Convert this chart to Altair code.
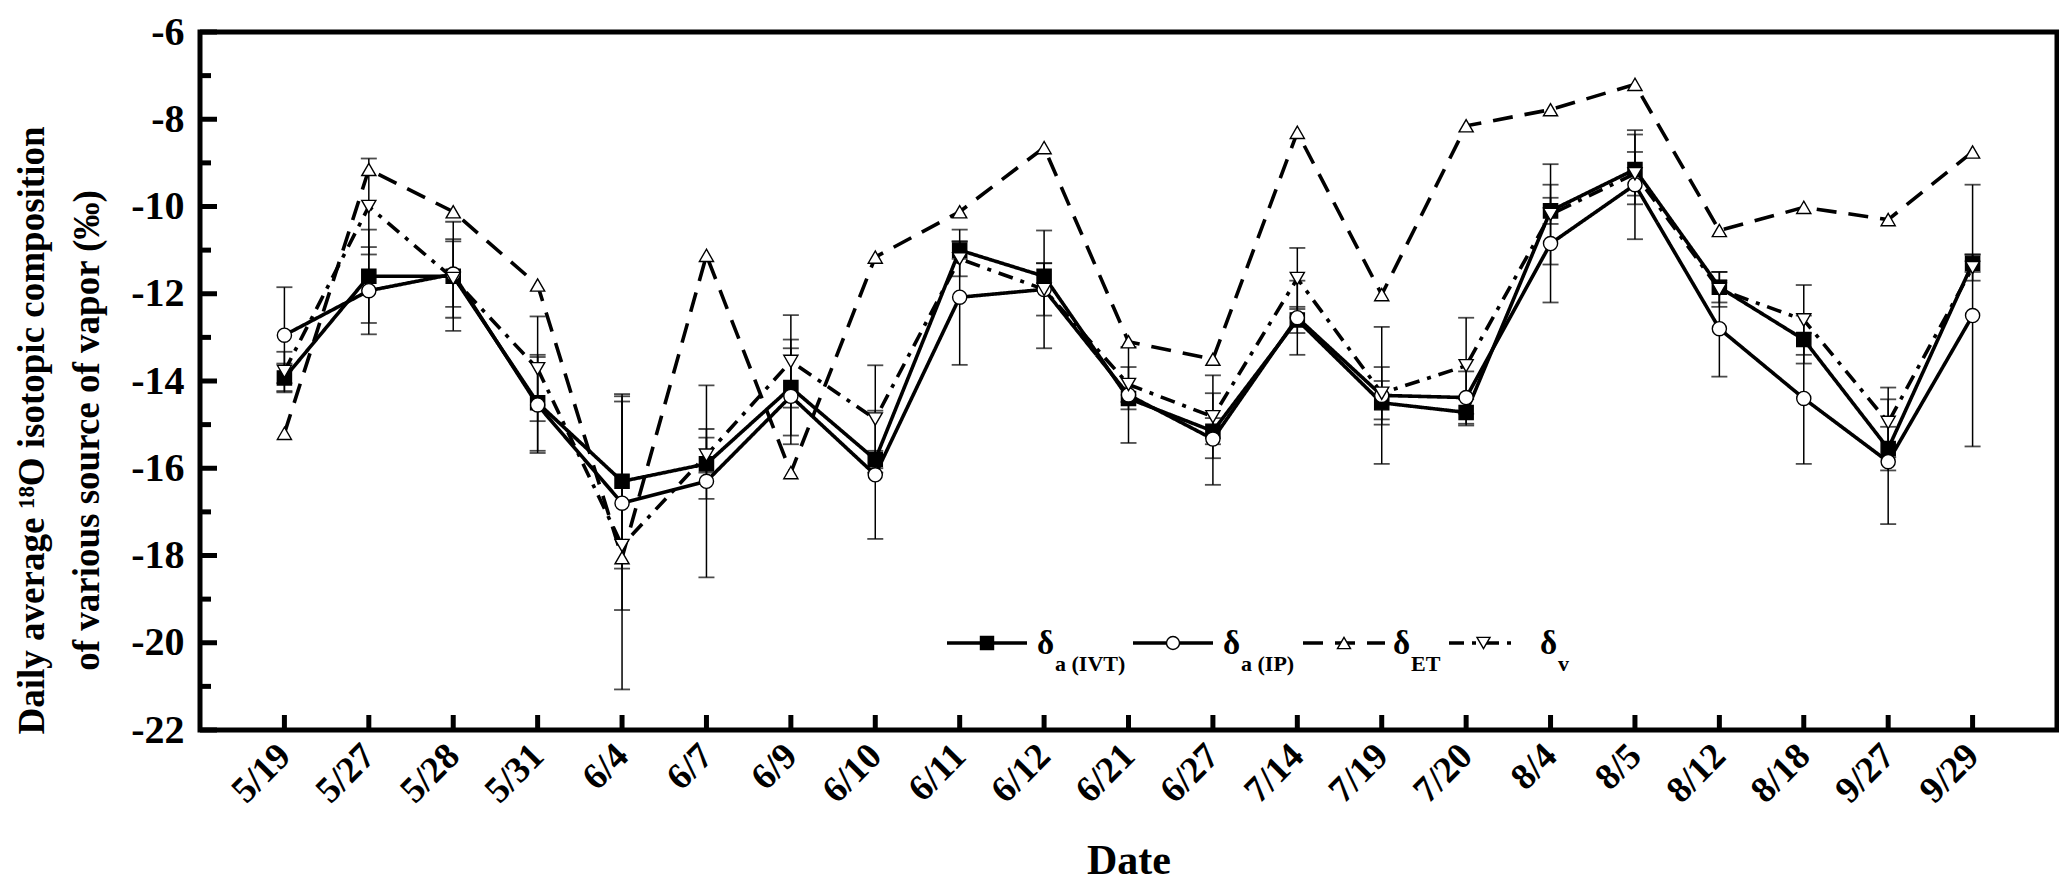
import altair as alt
import pandas as pd

# sampling dates (categories on the x axis)
dates = ["5/19", "5/27", "5/28", "5/31", "6/4", "6/7", "6/9", "6/10", "6/11", "6/12", "6/21",
         "6/27", "7/14", "7/19", "7/20", "8/4", "8/5", "8/12", "8/18", "9/27", "9/29"]

# daily average d18O (permil) of each vapour source
d_ivt = [-13.93, -11.6, -11.6, -14.5, -16.3, -15.9, -14.15, -15.8, -11.0, -11.6, -14.4,
         -15.15, -12.6, -14.5, -14.72, -10.1, -9.15, -11.85, -13.05, -15.55, -11.3]
d_ip = [-12.95, -11.93, -11.55, -14.55, -16.8, -16.3, -14.35, -16.15, -12.08, -11.9, -14.32,
        -15.33, -12.55, -14.33, -14.38, -10.85, -9.5, -12.8, -14.4, -15.85, -12.5]
d_et = [-15.2, -9.15, -10.12, -11.8, -18.05, -11.12, -16.1, -11.16, -10.12, -8.65, -13.1,
        -13.5, -8.3, -12.02, -8.15, -7.78, -7.2, -10.55, -10.02, -10.3, -8.75]
d_v = [-13.78, -10.0, -11.65, -13.72, -17.77, -15.7, -13.55, -14.87, -11.2, -11.9, -14.08,
       -14.82, -11.65, -14.28, -13.65, -10.18, -9.25, -11.9, -12.6, -14.95, -11.4]

# error half-widths (permil)
e_ivt = [0.33, 1.07, 1.25, 1.1, 2.0, 0.8, 1.1, 0.2, 0.2, 0.3, 0.25,
         0.3, 0.3, 0.5, 0.3, 0.3, 0.8, 0.35, 0.55, 0.5, 0.2]
e_ip = [1.1, 1.0, 0.75, 1.1, 2.45, 2.2, 1.1, 1.47, 1.55, 1.35, 1.1,
        1.05, 0.85, 1.57, 0.6, 1.35, 1.25, 1.1, 1.5, 1.43, 3.0]
e_v = [0.45, 1.1, 0.9, 1.2, 3.3, 0.4, 1.06, 1.23, 0.4, 0.6, 0.4,
       0.95, 0.7, 0.6, 1.1, 1.15, 0.5, 0.4, 0.8, 0.8, 0.3]

series = ["IVT", "IP", "ET", "v"]
subs = ["a (IVT)", "a (IP)", "ET", "v"]
shapes = ["square", "circle", "triangle-up", "triangle-down"]
fills = ["black", "white", "white", "white"]
dashes = [[1, 0], [1, 0], [20, 12], [15, 8, 4, 8]]

W = 1857
H = 698
FONT = "Liberation Serif"

rows = []
for key, vals, errs in [("IVT", d_ivt, e_ivt), ("IP", d_ip, e_ip), ("ET", d_et, None), ("v", d_v, e_v)]:
    for i, d in enumerate(dates):
        r = {"date": d, "series": key, "value": vals[i]}
        if errs is not None:
            r["lo"] = vals[i] - errs[i]
            r["hi"] = vals[i] + errs[i]
        rows.append(r)
df = pd.DataFrame(rows)
df_err = df.dropna(subset=["lo"])

x_enc = alt.X("date:N", sort=dates, scale=alt.Scale(type="point", padding=1),
              axis=alt.Axis(title="Date", labelAngle=-45, labelAlign="right", labelBaseline="middle",
                            labelPadding=20, labelFontSize=37, ticks=False, domain=False,
                            titleFontSize=42, titleY=143, titleBaseline="alphabetic"))
y_scale = alt.Scale(domain=[-22, -6], nice=False, zero=False)
y_axis = alt.Axis(title=["Daily average \u00b9\u2078O isotopic composition", "of various source of vapor (\u2030)"],
                  values=list(range(-22, -5, 2)), labelExpr="'' + datum.value", ticks=False,
                  domain=False, grid=False, labelPadding=16, labelFontSize=40,
                  titleFontSize=37, titleLineHeight=55, titleX=-157, titleY=398,
                  titleAngle=-90, titleAlign="center", titleBaseline="alphabetic")

shape_enc = alt.Shape("series:N", scale=alt.Scale(domain=series, range=shapes), legend=None)
fill_enc = alt.Fill("series:N", scale=alt.Scale(domain=series, range=fills), legend=None)
dash_enc = alt.StrokeDash("series:N", scale=alt.Scale(domain=series, range=dashes), legend=None)

base = alt.Chart(df)

bars = alt.Chart(df_err).mark_rule(color="black", strokeWidth=1.5).encode(
    x=x_enc, y=alt.Y("lo:Q", scale=y_scale, axis=y_axis), y2="hi:Q")
caps_lo = alt.Chart(df_err).mark_tick(color="black", size=16, thickness=1.8).encode(
    x=x_enc, y=alt.Y("lo:Q", scale=y_scale, axis=y_axis))
caps_hi = alt.Chart(df_err).mark_tick(color="black", size=16, thickness=1.8).encode(
    x=x_enc, y=alt.Y("hi:Q", scale=y_scale, axis=y_axis))

lines = base.mark_line(color="black", strokeWidth=3.6).encode(
    x=x_enc, y=alt.Y("value:Q", scale=y_scale, axis=y_axis), detail="series:N", strokeDash=dash_enc)
points = base.mark_point(filled=True, stroke="black", strokeWidth=1.4, opacity=1, size=200).encode(
    x=x_enc, y=alt.Y("value:Q", scale=y_scale, axis=y_axis), shape=shape_enc, fill=fill_enc)

# inward axis ticks
ytick_df = pd.DataFrame({"t": list(range(-22, -5))})
yticks_major = alt.Chart(ytick_df).transform_filter("datum.t % 2 == 0").mark_rule(
    color="black", strokeWidth=5).encode(y=alt.Y("t:Q", scale=y_scale, axis=y_axis),
                                         x=alt.value(0), x2=alt.value(17))
yticks_minor = alt.Chart(ytick_df).transform_filter("datum.t % 2 != 0").mark_rule(
    color="black", strokeWidth=5).encode(y=alt.Y("t:Q", scale=y_scale, axis=y_axis),
                                         x=alt.value(0), x2=alt.value(11))
xtick_df = pd.DataFrame({"date": dates})
xticks = alt.Chart(xtick_df).mark_rule(color="black", strokeWidth=5).encode(
    x=x_enc, y=alt.value(H), y2=alt.value(H - 15))

# hand-made legend with subscripts
leg_x0 = [747, 933, 1103, 1249]
leg_x1 = [827, 1013, 1185, 1318]
leg_xd = [837, 1023, 1193, 1340]
leg_y = 611
leg = pd.DataFrame({
    "series": series,
    "sub": subs,
    "x0": leg_x0,
    "x1": leg_x1,
    "xm": [(a + b) / 2 for a, b in zip(leg_x0, leg_x1)],
    "xd": leg_xd,
    "xs": [d + 18 for d in leg_xd],
})
leg_lines = alt.Chart(leg).mark_rule(color="black", strokeWidth=3.6).encode(
    x=alt.X("x0:Q", scale=None), x2="x1:Q", y=alt.value(leg_y), strokeDash=dash_enc)
leg_pts = alt.Chart(leg).mark_point(filled=True, stroke="black", strokeWidth=1.4, opacity=1, size=170).encode(
    x=alt.X("xm:Q", scale=None), y=alt.value(leg_y), shape=shape_enc, fill=fill_enc)
leg_delta = alt.Chart(leg).mark_text(text="\u03b4", font=FONT, fontWeight="bold", fontSize=33,
                                     align="left", baseline="alphabetic", color="black").encode(
    x=alt.X("xd:Q", scale=None), y=alt.value(leg_y + 11))
leg_sub = alt.Chart(leg).mark_text(font=FONT, fontWeight="bold", fontSize=22,
                                   align="left", baseline="alphabetic", color="black").encode(
    x=alt.X("xs:Q", scale=None), y=alt.value(leg_y + 28), text="sub:N")

chart = alt.layer(
    yticks_major, yticks_minor, xticks, bars, caps_lo, caps_hi, lines, points,
    leg_lines, leg_pts, leg_delta, leg_sub
).properties(
    width=W, height=H,
    autosize=alt.AutoSizeParams(type="none"),
    padding={"left": 192, "right": 2, "top": 24, "bottom": 155}
).configure_view(
    stroke="black", strokeWidth=5
).configure_axis(
    labelFont=FONT, labelFontWeight="bold", labelColor="black",
    titleFont=FONT, titleFontWeight="bold", titleColor="black"
)

chart.save("out.html", embed_options={"renderer": "svg", "actions": False})
